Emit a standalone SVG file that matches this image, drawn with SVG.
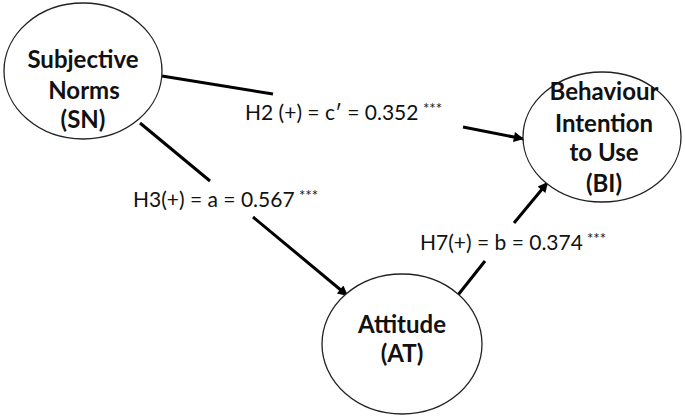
<svg xmlns="http://www.w3.org/2000/svg" width="685" height="419" viewBox="0 0 685 419">
<style>
.node ellipse{fill:#fff;stroke:#222;stroke-width:1.3}
.node text{font-family:Lato,"Open Sans","Liberation Sans",sans-serif;font-weight:bold;font-size:24px;fill:#111;text-anchor:middle}
.conn line{stroke:#000;stroke-width:3}
.lbl{font-family:Lato,"Open Sans","Liberation Sans",sans-serif;font-size:21px;fill:#111}
.sup{font-family:Lato,"Open Sans","Liberation Sans",sans-serif;font-size:15px;fill:#111}
</style>
<defs>
<marker id="ah" viewBox="0 0 10 10" refX="10" refY="5" markerWidth="4.2" markerHeight="3.4" orient="auto" markerUnits="strokeWidth">
<path d="M0,0 L10,5 L0,10 z" fill="#000"/>
</marker>
</defs>
<rect width="685" height="419" fill="#fff"/>
<g id="connectors" class="conn">
<line x1="162" y1="76" x2="273" y2="94"/>
<line x1="463" y1="127" x2="524" y2="139" marker-end="url(#ah)"/>
<line x1="140" y1="123" x2="210" y2="181"/>
<line x1="253" y1="217" x2="348" y2="296" marker-end="url(#ah)"/>
<line x1="458" y1="295" x2="485" y2="261"/>
<line x1="514" y1="223" x2="548" y2="182" marker-end="url(#ah)"/>
</g>
<g id="node-SN" class="node">
<ellipse cx="83" cy="71" rx="79" ry="68"/>
<text x="83" y="68">Subjective</text>
<text x="84" y="99">Norms</text>
<text x="83" y="128">(SN)</text>
</g>
<g id="node-BI" class="node">
<ellipse cx="602" cy="137" rx="79" ry="65"/>
<text x="604" y="100">Behaviour</text>
<text x="604" y="132">Intention</text>
<text x="604" y="161">to Use</text>
<text x="604" y="192">(BI)</text>
</g>
<g id="node-AT" class="node">
<ellipse cx="402" cy="344" rx="80" ry="70"/>
<text x="402" y="333">Attitude</text>
<text x="402" y="362">(AT)</text>
</g>
<g id="labels">
<text class="lbl" x="245" y="120">H2 (+) = c′ = 0.352</text>
<text class="sup" x="423" y="114">***</text>
<text class="lbl" x="133" y="207">H3(+) = a = 0.567</text>
<text class="sup" x="299" y="201">***</text>
<text class="lbl" x="420" y="250">H7(+) = b = 0.374</text>
<text class="sup" x="587" y="244">***</text>
</g>
</svg>
